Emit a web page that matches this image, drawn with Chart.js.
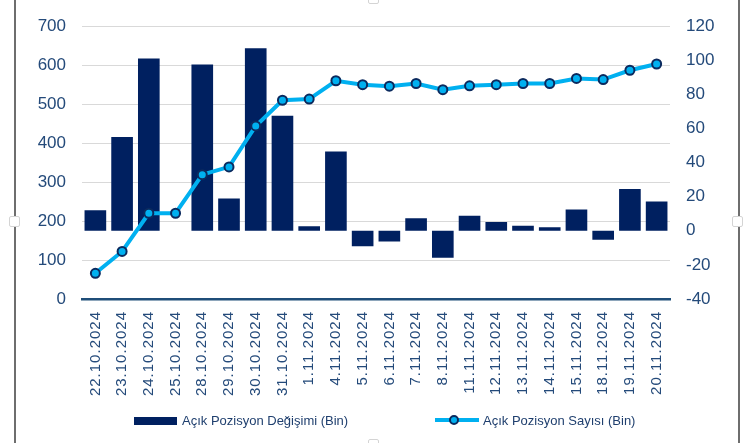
<!DOCTYPE html>
<html>
<head>
<meta charset="utf-8">
<script src="https://cdn.jsdelivr.net/npm/chart.js@4.4.1/dist/chart.umd.min.js"></script>
<style>
  body { margin: 0; background: #fff; }
  .wrap { position: relative; width: 748px; height: 443px; overflow: hidden; font-family: "Liberation Sans", Arial, sans-serif; }
  #chart { position: absolute; left: 0; top: 0; }
  .frame { position: absolute; top: 0; width: 2px; height: 443px; background: #6e6e6e; }
  .handle { position: absolute; width: 9px; height: 9px; border: 1px solid #d4d4d4; background: #fff; border-radius: 2px; }
  .lg-text { position: absolute; top: 413px; font-size: 13px; line-height: 16px; color: #1F3F6E; white-space: nowrap; }
  .lg-box { position: absolute; left: 134px; top: 417px; width: 43px; height: 8px; background: #002060; }
  .lg-line { position: absolute; left: 435px; top: 418px; width: 44px; height: 4px; background: #00B0F0; }
  .lg-dot { position: absolute; left: 449px; top: 415px; width: 6px; height: 6px; border: 2px solid #0B2A5E; border-radius: 50%; background: #00B0F0; }
</style>
</head>
<body>
<div class="wrap">
  <canvas id="chart" width="748" height="443"></canvas>
  <div class="frame" style="left:14px"></div>
  <div class="frame" style="left:738px"></div>
  <div class="handle" style="left:368px; top:-7px"></div>
  <div class="handle" style="left:368px; top:439px"></div>
  <div class="handle" style="left:9px; top:216px"></div>
  <div class="handle" style="left:732px; top:216px"></div>
  <div class="lg-box"></div>
  <div class="lg-text" style="left:182px">Açık Pozisyon Değişimi (Bin)</div>
  <div class="lg-line"></div>
  <div class="lg-dot"></div>
  <div class="lg-text" style="left:483px">Açık Pozisyon Sayısı (Bin)</div>
</div>
<script>
// data
const dates = ['22.10.2024', '23.10.2024', '24.10.2024', '25.10.2024', '28.10.2024', '29.10.2024',
  '30.10.2024', '31.10.2024', '1.11.2024', '4.11.2024', '5.11.2024', '6.11.2024', '7.11.2024',
  '8.11.2024', '11.11.2024', '12.11.2024', '13.11.2024', '14.11.2024', '15.11.2024', '18.11.2024',
  '19.11.2024', '20.11.2024'];
const positionChange = [12, 55, 101, 0, 97.5, 19, 107, 67.5, 2.7, 46.5, -9, -6.3, 7.3, -15.8,
  8.9, 5.2, 2.9, 2.1, 12.5, -5.2, 24.5, 17.2];
const positionCount = [66, 122, 220, 220, 319, 339, 444, 510, 513, 560, 550, 546, 553, 537,
  547, 550, 553, 553, 566, 563, 587, 603];
const leftTicks = [0, 100, 200, 300, 400, 500, 600, 700];
const rightTicks = [-40, -20, 0, 20, 40, 60, 80, 100, 120];

const textColor = '#244A7A';
const ctx = document.getElementById('chart').getContext('2d');
const chart = new Chart(ctx, {
  type: 'bar',
  data: {
    labels: dates,
    datasets: [
      {
        type: 'line',
        label: 'Açık Pozisyon Sayısı (Bin)',
        data: positionCount,
        yAxisID: 'y',
        borderColor: '#00B0F0',
        borderWidth: 4,
        pointRadius: 4.5,
        pointBorderWidth: 2,
        pointBackgroundColor: '#00B0F0',
        pointBorderColor: '#0B2A5E',
        tension: 0,
        order: 0
      },
      {
        type: 'bar',
        label: 'Açık Pozisyon Değişimi (Bin)',
        data: positionChange,
        yAxisID: 'y1',
        backgroundColor: '#002060',
        barPercentage: 0.81,
        categoryPercentage: 1,
        order: 1
      }
    ]
  },
  options: {
    responsive: false,
    animation: false,
    devicePixelRatio: 1,
    layout: { padding: { left: 16, right: 18, top: 22, bottom: 0 } },
    plugins: {
      legend: { display: false },
      tooltip: { enabled: false }
    },
    scales: {
      x: {
        grid: { display: false, drawTicks: false },
        border: { display: true, color: '#1F4E79', width: 2.5 },
        ticks: {
          color: textColor,
          font: { family: 'Liberation Sans', size: 15 },
          maxRotation: 90,
          minRotation: 90,
          padding: 12,
          autoSkip: false
        },
        afterFit: s => { s.height = 144; }
      },
      y: {
        position: 'left',
        min: leftTicks[0],
        max: leftTicks[leftTicks.length - 1],
        afterBuildTicks: s => { s.ticks = leftTicks.map(v => ({ value: v })); },
        grid: { color: '#D9D9D9', lineWidth: 1, drawTicks: false },
        border: { display: false },
        ticks: {
          color: textColor,
          font: { family: 'Liberation Sans', size: 17 },
          padding: 16
        },
        afterFit: s => { s.width = 66; }
      },
      y1: {
        position: 'right',
        min: rightTicks[0],
        max: rightTicks[rightTicks.length - 1],
        afterBuildTicks: s => { s.ticks = rightTicks.map(v => ({ value: v })); },
        grid: { display: false, drawTicks: false },
        border: { display: false },
        ticks: {
          color: textColor,
          font: { family: 'Liberation Sans', size: 17 },
          padding: 16
        },
        afterFit: s => { s.width = 60; }
      }
    }
  }
});

// the date labels in the picture are spaced a little wider
const xScale = chart.scales.x;
const drawDates = xScale.drawLabels.bind(xScale);
xScale.drawLabels = function (area) {
  const c = this.ctx;
  c.save();
  c.letterSpacing = '1px';
  drawDates(area);
  c.restore();
};
chart.draw();
</script>
</body>
</html>
